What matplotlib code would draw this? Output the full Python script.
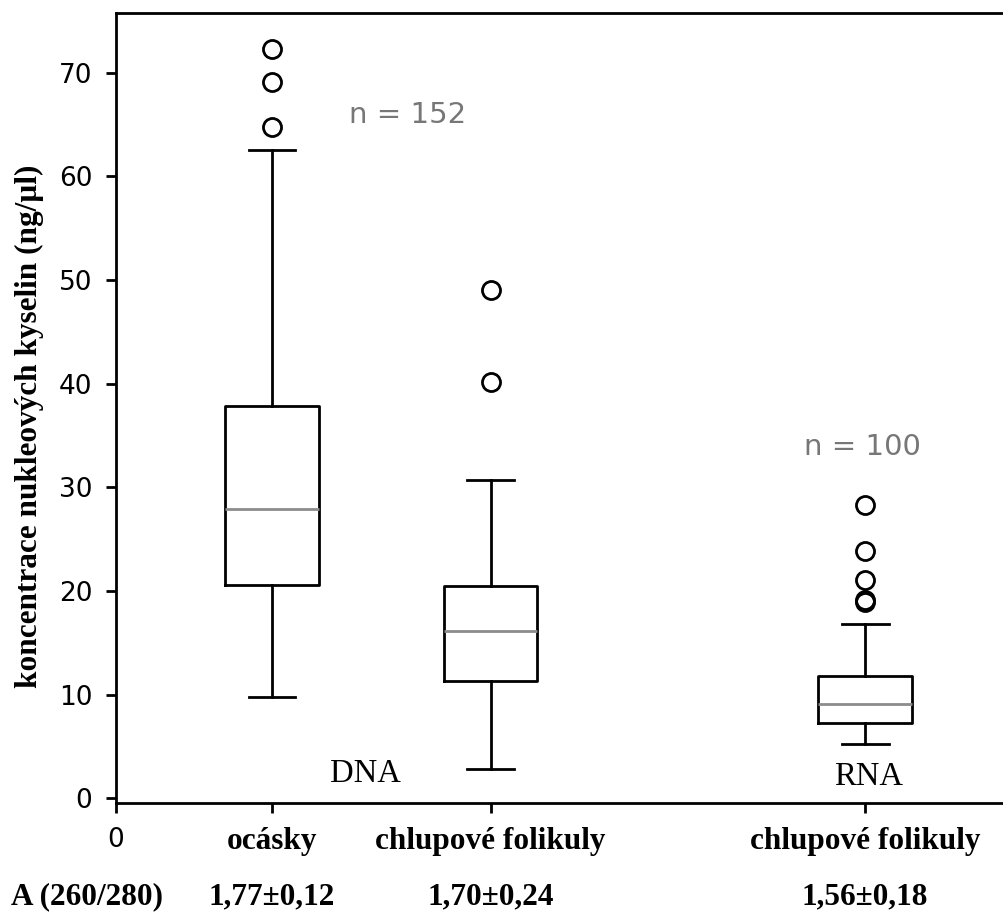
import matplotlib
matplotlib.use("Agg")
import matplotlib.pyplot as plt

# Data
categories = ["ocásky", "chlupové folikuly", "chlupové folikuly"]
positions = [1.0, 2.4, 4.8]
whisker_low = [9.75, 2.8, 5.2]
q1 = [20.6, 11.3, 7.3]
median = [27.9, 16.1, 9.1]
q3 = [37.8, 20.5, 11.8]
whisker_high = [62.5, 30.7, 16.8]
outliers = [[64.8, 69.1, 72.3], [40.2, 49.0], [18.9, 19.1, 21.1, 23.9, 28.3]]
ratios = ["1,77±0,12", "1,70±0,24", "1,56±0,18"]
n_labels = ["n = 152", "n = 100"]
groups = ["DNA", "RNA"]

fig = plt.figure(figsize=(10.04, 9.14), dpi=100)
ax = fig.add_axes([0.1155, 0.1214, 0.8845, 0.8649])

stats = []
for i in range(3):
    stats.append(dict(whislo=whisker_low[i], q1=q1[i], med=median[i], q3=q3[i],
                      whishi=whisker_high[i], fliers=outliers[i]))
ax.bxp(stats, positions=positions, widths=0.6, showfliers=True,
       boxprops=dict(color="black", linewidth=2),
       whiskerprops=dict(color="black", linewidth=2),
       capprops=dict(color="black", linewidth=2),
       medianprops=dict(color="#8c8c8c", linewidth=2),
       flierprops=dict(marker="o", markerfacecolor="none", markeredgecolor="black",
                       markersize=13, markeredgewidth=2))

ax.set_xlim(0, 5.69)
ax.set_ylim(-0.45, 75.8)
ax.spines["right"].set_visible(False)
for s in ["left", "bottom", "top"]:
    ax.spines[s].set_linewidth(2)

ax.set_yticks([0, 10, 20, 30, 40, 50, 60, 70])
ax.tick_params(axis="y", labelsize=19, width=2, length=7, pad=10)
ax.tick_params(axis="x", width=2, length=7, pad=10)
ax.set_xticks([0] + positions)
ax.set_xticklabels(["0"] + categories)
xl = ax.get_xticklabels()
xl[0].set_fontsize(19)
for t in xl[1:]:
    t.set_fontfamily("Liberation Serif")
    t.set_fontweight("bold")
    t.set_fontsize(22.5)

ax.set_ylabel("koncentrace nukleových kyselin (ng/µl)", fontfamily="Liberation Serif",
              fontweight="bold", fontsize=22.5)
ax.yaxis.set_label_coords(-0.081, 0.476)

ax.text(1.87, 65.9, n_labels[0], color="#777777", fontsize=21, ha="center", va="center")
ax.text(4.78, 33.9, n_labels[1], color="#777777", fontsize=21, ha="center", va="center")
ax.text(1.6, 2.4, groups[0], fontfamily="Liberation Serif", fontsize=23.5, ha="center", va="center")
ax.text(4.82, 2.1, groups[1], fontfamily="Liberation Serif", fontsize=23.5, ha="center", va="center")

# Bottom row of ratios
def xfig(xd):
    return ax.transData.transform((xd, 0))[0] / fig.bbox.width

fig.text(87 / 1004, 1 - 897 / 914, "A (260/280)", fontfamily="Liberation Serif",
         fontweight="bold", fontsize=22.5, ha="center", va="center")
for p, r in zip(positions, ratios):
    fig.text(xfig(p), 1 - 897 / 914, r, fontfamily="Liberation Serif",
             fontweight="bold", fontsize=22.5, ha="center", va="center")

fig.savefig("out.png", dpi=100)
